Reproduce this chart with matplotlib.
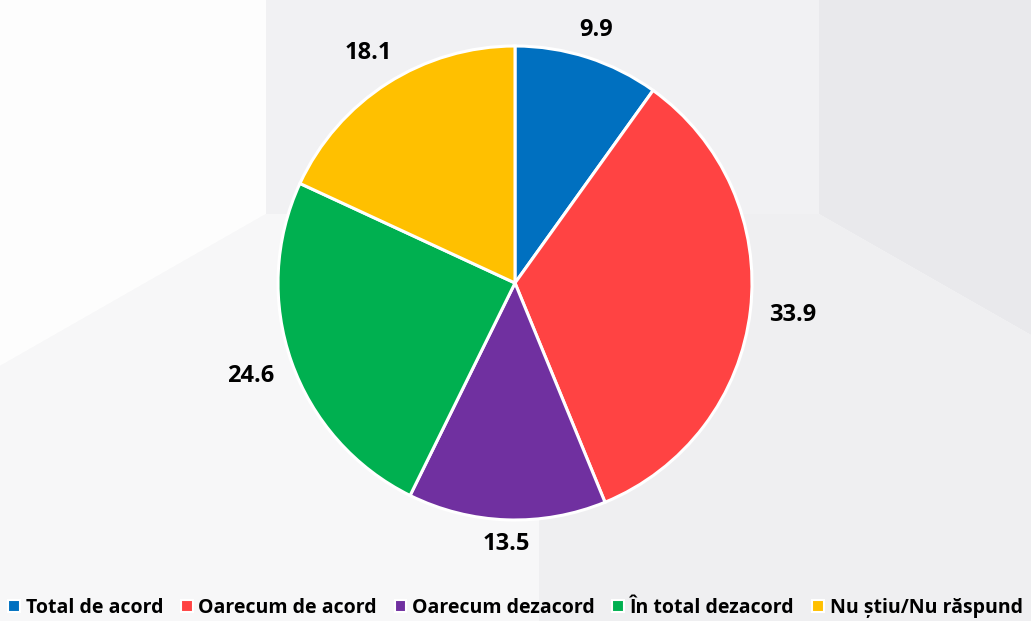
import matplotlib
matplotlib.use('Agg')
import matplotlib.pyplot as plt
import numpy as np
from matplotlib.patches import Polygon, Patch

categorii = ['Total de acord', 'Oarecum de acord', 'Oarecum dezacord',
             'În total dezacord', 'Nu știu/Nu răspund']
valori = [9.9, 33.9, 13.5, 24.6, 18.1]
culori = ['#0070C0', '#FF4343', '#7030A0', '#00B050', '#FFC000']

plt.rcParams['font.family'] = ['Open Sans', 'DejaVu Sans']

W, H = 1031, 621
fig = plt.figure(figsize=(W / 100, H / 100), dpi=100)
fig.patch.set_facecolor('#f8f8f9')

# fundal cu forme gri discrete (coordonate in pixeli, de sus in jos)
def poligon(puncte, culoare):
    pts = [(x / W, 1 - y / H) for x, y in puncte]
    fig.add_artist(Polygon(pts, closed=True, transform=fig.transFigure,
                           facecolor=culoare, edgecolor='none', zorder=0))

poligon([(0, 0), (266, 0), (266, 214), (0, 366)], '#fdfdfd')
poligon([(266, 0), (819, 0), (819, 214), (266, 214)], '#f1f1f3')
poligon([(819, 0), (W, 0), (W, 335), (819, 214)], '#e9e9ec')
poligon([(0, 366), (266, 214), (539, 214), (539, H), (0, H)], '#f7f7f8')
poligon([(539, 214), (819, 214), (W, 335), (W, H), (539, H)], '#efeff1')

ax = fig.add_axes([278 / W, 101 / H, 474 / W, 474 / H])
ax.set_facecolor('none')
wedges, texts, autotexts = ax.pie(
    valori, colors=culori, startangle=90, counterclock=False,
    autopct=lambda p: f'{p:.1f}', pctdistance=1.16,
    wedgeprops=dict(edgecolor='white', linewidth=2.2))
for t in autotexts:
    t.set_fontsize(17)
    t.set_fontweight('bold')
    t.set_color('black')
ax.set_xlim(-1, 1)
ax.set_ylim(-1, 1)
ax.set_aspect('equal')

# etichete la distanta fixa de marginea cercului (ca in Excel)
fig.canvas.draw()
r = fig.canvas.get_renderer()
raza_px = ax.transData.transform((1, 0))[0] - ax.transData.transform((0, 0))[0]
for w, t in zip(wedges, autotexts):
    th = np.deg2rad((w.theta1 + w.theta2) / 2)
    bb = t.get_window_extent(r)
    dist = 1 + 0.08 + (abs(np.cos(th)) * bb.width / 2 + abs(np.sin(th)) * bb.height * 0.2) / raza_px
    t.set_position((dist * np.cos(th), dist * np.sin(th)))

handles = [Patch(facecolor=c, edgecolor='white', linewidth=1.5) for c in culori]
leg = fig.legend(handles, categorii, loc='center', bbox_to_anchor=(0.5, 1 - 608 / H),
                 ncol=5, frameon=False, fontsize=14, handlelength=0.6,
                 handleheight=0.6, handletextpad=0.3, columnspacing=0.9)
for t in leg.get_texts():
    t.set_fontweight('bold')

fig.savefig('out.png', dpi=100, facecolor=fig.get_facecolor())
